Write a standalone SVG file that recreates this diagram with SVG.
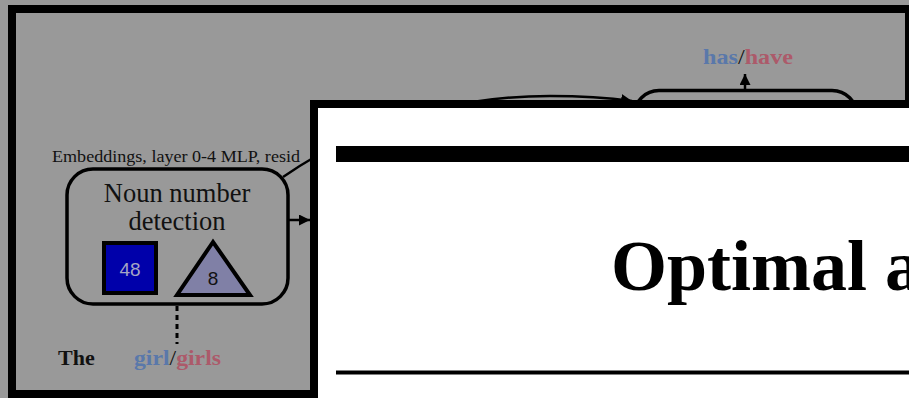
<svg xmlns="http://www.w3.org/2000/svg" width="909" height="398" viewBox="0 0 909 398">
<defs>
<style>
.serif{font-family:"Liberation Serif","Times New Roman",serif;}
.sans{font-family:"Liberation Sans",Arial,sans-serif;}
.box{fill:none;stroke:#000;stroke-width:3.5;}
.conn{fill:none;stroke:#000;stroke-width:2.5;}
.blue{fill:#5a78aa;font-weight:bold;}
.red{fill:#ac5a6a;font-weight:bold;}
</style>
<marker id="ah" viewBox="0 0 10 10" refX="10" refY="5" markerWidth="4.4" markerHeight="4.4" orient="auto" markerUnits="strokeWidth">
<path d="M0,0 L10,5 L0,10 z" fill="#000"/>
</marker>
</defs>
<rect x="0" y="0" width="909" height="398" fill="#999999"/>
<rect x="12" y="9" width="897" height="385" fill="none" stroke="#000" stroke-width="8"/>

<g id="connectors">
<path class="conn" d="M283,177 C380,110 480,96 550,96 C590,96 610,98 632,101" marker-end="url(#ah)"/>
<line class="conn" x1="288" y1="220" x2="310" y2="220" marker-end="url(#ah)"/>
<line class="conn" x1="745" y1="90" x2="745" y2="74" marker-end="url(#ah)"/>
<line x1="177" y1="306" x2="177" y2="344" stroke="#000" stroke-width="3" stroke-dasharray="5,4"/>
</g>

<g id="label-embeddings">
<text class="serif" x="52" y="162" font-size="17" textLength="248" lengthAdjust="spacingAndGlyphs" fill="#111">Embeddings, layer 0-4 MLP, resid</text>
</g>

<g id="node-noun-number">
<rect class="box" x="67" y="169" width="221" height="135" rx="26"/>
<text class="serif" x="177" y="202" font-size="26.5" text-anchor="middle" fill="#111">Noun number</text>
<text class="serif" x="177" y="230" font-size="26.5" text-anchor="middle" fill="#111">detection</text>
<rect x="104" y="243" width="52" height="50" fill="#0000aa" stroke="#000" stroke-width="4"/>
<text class="sans" x="130" y="276" font-size="19" text-anchor="middle" fill="#a4a4c4">48</text>
<polygon points="213,242 177,295 250,295" fill="#8080a6" stroke="#000" stroke-width="4" stroke-linejoin="miter"/>
<text class="sans" x="213" y="285" font-size="19" text-anchor="middle" fill="#111">8</text>
</g>

<g id="node-top">
<path class="box" d="M634,110 L634,115 M634,115 L634,115 A25,25 0 0 1 659,90.5 L832,90.5 A25,25 0 0 1 857,115.5 L857,140"/>
</g>

<g id="token-the">
<text class="serif" x="58" y="365" font-size="22" font-weight="bold" fill="#111">The</text>
</g>
<g id="token-girl">
<text class="serif" x="134" y="365" font-size="22" textLength="87" lengthAdjust="spacingAndGlyphs"><tspan class="blue">girl</tspan><tspan fill="#111">/</tspan><tspan class="red">girls</tspan></text>
</g>
<g id="token-has">
<text class="serif" x="703" y="64" font-size="22" textLength="90" lengthAdjust="spacingAndGlyphs"><tspan class="blue">has</tspan><tspan fill="#111">/</tspan><tspan class="red">have</tspan></text>
</g>

<g id="panel">
<rect x="314" y="104" width="620" height="320" fill="#fff" stroke="#000" stroke-width="8"/>
<rect x="336" y="146" width="600" height="16" fill="#000"/>
<text class="serif" x="611" y="290" font-size="72" font-weight="bold" fill="#000">Optimal a</text>
<line x1="336" y1="372.5" x2="909" y2="372.5" stroke="#000" stroke-width="4"/>
</g>
</svg>
